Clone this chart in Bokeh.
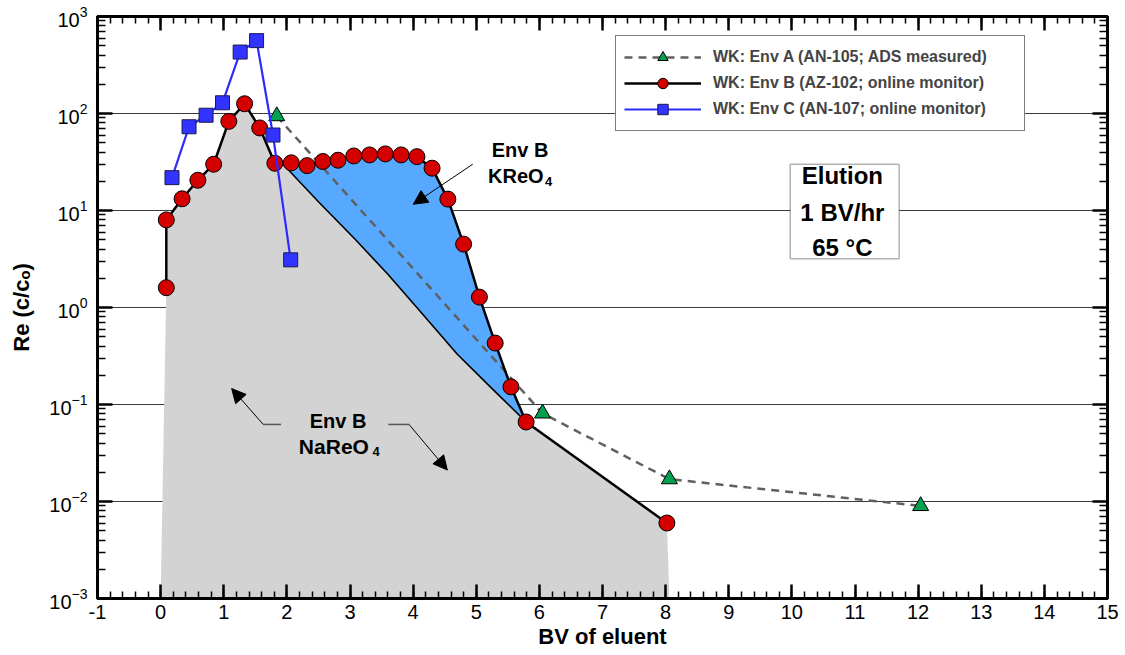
import numpy as np
from bokeh.plotting import figure
from bokeh.models import (FixedTicker, LinearAxis, LogAxis, Label, Arrow, NormalHead,
                          BoxAnnotation, Legend, LegendItem, CustomJSTickFormatter)
from bokeh.embed import file_html
from bokeh.resources import INLINE

# ---------------- data ----------------
env_a_bv = [1.84, 6.05, 8.06, 12.04]
env_a_re = [94, 0.081, 0.017, 0.009]

env_b_bv = [0.09, 0.09, 0.34, 0.59, 0.84, 1.08, 1.33, 1.57, 1.81, 2.07, 2.32, 2.57,
            2.81, 3.06, 3.31, 3.56, 3.81, 4.06, 4.30, 4.55, 4.80, 5.05, 5.30, 5.55,
            5.79, 8.02]
env_b_re = [1.6, 8.0, 13.2, 20.5, 30, 83, 126, 71, 30.7, 31, 29, 32,
            33, 36.5, 37.4, 38.3, 37.4, 35.9, 27.3, 13.1, 4.5, 1.28, 0.43, 0.152,
            0.066, 0.006]

env_c_bv = [0.18, 0.45, 0.72, 0.98, 1.26, 1.52, 1.78, 2.06]
env_c_re = [21.8, 73, 96, 129, 430, 564, 60, 3.1]

# lower limit of the KReO4 band (NaReO4 part of Env B)
nareo4_bv = [1.94, 2.5, 3.1, 3.6, 4.1, 4.7, 5.25, 5.79]
nareo4_re = [30, 12.3, 4.9, 2.2, 0.93, 0.33, 0.146, 0.066]

# where the shaded NaReO4 area meets the bottom of the plot
fill_floor_re = 1e-3
fill_start_bv = 0.0
fill_end_bv = 8.06

x_ticks = list(range(-1, 16))
y_ticks = [1e-3, 1e-2, 1e-1, 1e0, 1e1, 1e2, 1e3]

legend_labels = ["WK: Env A (AN-105; ADS measured)",
                 "WK: Env B (AZ-102; online monitor)",
                 "WK: Env C (AN-107; online monitor)"]

# ---------------- figure ----------------
FONT = "Liberation Sans"
p = figure(width=1125, height=655, x_range=(-1, 15), y_range=(1e-3, 1e3),
           y_axis_type="log", output_backend="svg", toolbar_location=None,
           min_border_left=97, min_border_right=18, min_border_top=16,
           min_border_bottom=57)
p.background_fill_color = "white"
p.border_fill_color = "white"
p.outline_line_color = "black"
p.outline_line_width = 3

x_minor = [round(v, 2) for v in np.arange(-1, 15.001, 0.2)]
y_minor = [m * 10.0 ** e for e in range(-3, 3) for m in range(2, 10)]
xticker = FixedTicker(ticks=x_ticks, minor_ticks=x_minor)
yticker = FixedTicker(ticks=y_ticks, minor_ticks=y_minor)


def style_axis(ax, tin, mtin):
    ax.axis_line_color = "black"
    ax.axis_line_width = 3
    ax.major_tick_in = tin
    ax.major_tick_out = 0
    ax.minor_tick_in = mtin
    ax.minor_tick_out = 0
    ax.major_tick_line_color = "black"
    ax.major_tick_line_width = 2.5
    ax.minor_tick_line_color = "black"
    ax.minor_tick_line_width = 1.5
    ax.major_label_text_font = FONT
    ax.major_label_text_font_size = "20px"
    ax.major_label_text_color = "black"


xa = p.xaxis[0]
xa.ticker = xticker
xa.formatter = CustomJSTickFormatter(code="return tick.toFixed(0)")
style_axis(xa, 14, 7)
xa.major_label_standoff = 6
xa.axis_label = "BV of eluent"
xa.axis_label_text_font = FONT
xa.axis_label_text_font_style = "bold"
xa.axis_label_text_font_size = "22px"
xa.axis_label_text_color = "black"
xa.axis_label_standoff = 2

ya = p.yaxis[0]
ya.ticker = yticker
style_axis(ya, 15, 8)
ya.major_label_standoff = 10
ya.axis_label = "Re (c/c\u2092)"
ya.axis_label_text_font = FONT
ya.axis_label_text_font_style = "bold"
ya.axis_label_text_font_size = "22px"
ya.axis_label_text_color = "black"
ya.axis_label_standoff = 12

top_ax = LinearAxis(ticker=xticker, formatter=CustomJSTickFormatter(code="return ''"))
style_axis(top_ax, 14, 7)
top_ax.major_label_standoff = 0
p.add_layout(top_ax, "above")
right_ax = LogAxis(ticker=yticker, formatter=CustomJSTickFormatter(code="return ''"))
style_axis(right_ax, 15, 8)
right_ax.major_label_standoff = 0
p.add_layout(right_ax, "right")

p.xgrid.visible = False
p.ygrid.grid_line_color = "#3a3a3a"
p.ygrid.grid_line_width = 1
p.ygrid.ticker = yticker

# ---------------- shaded areas ----------------
n_peak = [i for i, b in enumerate(env_b_bv) if b < nareo4_bv[0]]
n_tail = [i for i, b in enumerate(env_b_bv) if b > nareo4_bv[-1]]
grey_x = [fill_start_bv] + [env_b_bv[i] for i in n_peak] + nareo4_bv + \
         [env_b_bv[i] for i in n_tail] + [fill_end_bv]
grey_y = [fill_floor_re] + [env_b_re[i] for i in n_peak] + nareo4_re + \
         [env_b_re[i] for i in n_tail] + [fill_floor_re]
p.patch(grey_x, grey_y, fill_color="#D3D3D3", line_color=None)

n_band = [i for i, b in enumerate(env_b_bv) if nareo4_bv[0] < b < nareo4_bv[-1]]
blue_x = [nareo4_bv[0]] + [env_b_bv[i] for i in n_band] + nareo4_bv[::-1]
blue_y = [nareo4_re[0]] + [env_b_re[i] for i in n_band] + nareo4_re[::-1]
p.patch(blue_x, blue_y, fill_color="#56A9FF", line_color=None)
p.line(nareo4_bv, nareo4_re, line_color="black", line_width=1.6)

# ---------------- series ----------------
la = p.line(env_a_bv, env_a_re, line_color="#606060", line_width=2.5, line_dash="8 6")
sa = p.scatter(env_a_bv, env_a_re, marker="triangle", size=16, fill_color="#00A04E",
               line_color="black", line_width=1)
lb = p.line(env_b_bv, env_b_re, line_color="black", line_width=2.5)
sb = p.scatter(env_b_bv, env_b_re, marker="circle", size=16, fill_color="#D40000",
               line_color="black", line_width=1)
lc = p.line(env_c_bv, env_c_re, line_color="#2B2BFF", line_width=2.2)
sc = p.scatter(env_c_bv, env_c_re, marker="square", size=14, fill_color="#3333FF",
               line_color="#1a1a50", line_width=1)

legend = Legend(items=[LegendItem(label=legend_labels[0], renderers=[la, sa]),
                       LegendItem(label=legend_labels[1], renderers=[lb, sb]),
                       LegendItem(label=legend_labels[2], renderers=[lc, sc])],
                location=(518, 467), margin=0, padding=8, spacing=0,
                glyph_width=77, glyph_height=26, label_height=26, label_width=303,
                label_standoff=12, label_text_font=FONT, label_text_font_style="bold",
                label_text_font_size="16px", border_line_color="black",
                border_line_width=1.5, background_fill_color="white",
                background_fill_alpha=1)
p.add_layout(legend, "center")

# ---------------- annotations ----------------
p.add_layout(BoxAnnotation(left=9.974, right=11.7, bottom=3.19, top=30.0,
                           fill_color="white", fill_alpha=1, line_color="black",
                           line_width=1.5))
for txt, yy in [("Elution", 22.7), ("1 BV/hr", 9.53), ("65 \u00b0C", 4.17)]:
    p.add_layout(Label(x=10.8, y=yy, text=txt, text_align="center",
                       text_baseline="middle", text_font=FONT, text_font_style="bold",
                       text_font_size="24px", text_color="black"))


def lab(x, y, t, size="20px", align="left"):
    p.add_layout(Label(x=x, y=y, text=t, text_align=align, text_baseline="alphabetic",
                       text_font=FONT, text_font_style="bold", text_font_size=size,
                       text_color="black"))


# KReO4 label and arrow
lab(5.695, 41.8, "Env B", align="center")
lab(5.187, 22.7, "KReO")
lab(6.09, 19.7, "4", size="13px")
p.add_layout(Arrow(end=NormalHead(size=14, fill_color="black", line_color="black"),
                   x_start=4.944, y_start=30, x_end=4.003, y_end=11.6,
                   line_color="black", line_width=1))

# NaReO4 label and arrows
lab(2.81, 0.0678, "Env B", align="center")
lab(2.19, 0.0373, "NaReO", size="21px")
lab(3.355, 0.0326, "4", size="13px")
p.add_layout(Arrow(end=None, x_start=1.906, y_start=0.0623, x_end=1.626, y_end=0.0623,
                   line_color="#555555", line_width=1.5))
p.add_layout(Arrow(end=NormalHead(size=14, fill_color="black", line_color="black"),
                   x_start=1.626, y_start=0.0623, x_end=1.125, y_end=0.146,
                   line_color="black", line_width=1))
p.add_layout(Arrow(end=None, x_start=3.607, y_start=0.0623, x_end=3.935, y_end=0.0623,
                   line_color="#555555", line_width=1.5))
p.add_layout(Arrow(end=NormalHead(size=14, fill_color="black", line_color="black"),
                   x_start=3.935, y_start=0.0623, x_end=4.542, y_end=0.0211,
                   line_color="black", line_width=1))

open("out.html", "w").write(file_html(p, INLINE))
